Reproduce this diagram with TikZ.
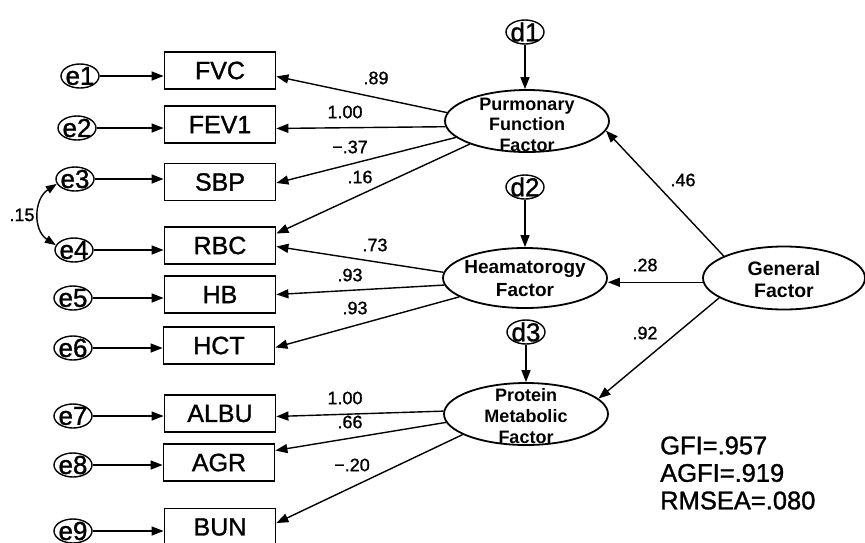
\documentclass[tikz,border=0pt]{standalone}
\usepackage{fontspec}
\setmainfont{Liberation Sans}
\newfontfamily\semib{Liberation Sans}[FakeBold=1.2]
\usetikzlibrary{shapes.geometric,arrows.meta,calc}
\begin{document}
\begin{tikzpicture}[x=1pt,y=-1pt,
 obs/.style={draw,line width=1.8pt,minimum width=111pt,minimum height=37pt,inner sep=0pt,font=\semib\fontsize{25}{28}\selectfont},
 err/.style={draw,ellipse,line width=1.4pt,minimum width=38pt,minimum height=24pt,inner sep=0pt},
 errtext/.style={inner sep=0pt,font=\semib\fontsize{26}{28}\selectfont},
 fac/.style={draw,ellipse,line width=1.8pt,minimum width=164pt,minimum height=62pt,inner sep=0pt},
 ftext/.style={align=center,inner sep=0pt,font=\fontsize{18}{20.5}\bfseries\selectfont},
 lbl/.style={inner sep=0pt,font=\semib\fontsize{18}{20}\selectfont},
 arr/.style={line width=1.4pt,-{Triangle[length=12pt,width=9pt]}},
]
\useasboundingbox (0,0) rectangle (865,542);
% observed boxes
\node[obs] (FVC) at (220,70.5) {FVC};
\node[obs] (FEV1) at (220,124.5) {FEV1};
\node[obs] (SBP) at (220,182) {SBP};
\node[obs] (RBC) at (220,245.5) {RBC};
\node[obs] (HB) at (220,294.5) {HB};
\node[obs] (HCT) at (219,345.5) {HCT};
\node[obs] (ALBU) at (220,413.5) {ALBU};
\node[obs] (AGR) at (219,462.5) {AGR};
\node[obs] (BUN) at (220,527) {BUN};
% error terms
\node[err,label={[errtext]center:e1}] (e1) at (80,76) {};
\node[err,label={[errtext]center:e2}] (e2) at (77,128) {};
\node[err,label={[errtext]center:e3}] (e3) at (75,179) {};
\node[err,label={[errtext]center:e4}] (e4) at (74,250) {};
\node[err,label={[errtext]center:e5}] (e5) at (73,298) {};
\node[err,label={[errtext]center:e6}] (e6) at (73,348) {};
\node[err,label={[errtext]center:e7}] (e7) at (73,416) {};
\node[err,label={[errtext]center:e8}] (e8) at (73,465) {};
\node[err,label={[errtext]center:e9}] (e9) at (73,531) {};
% disturbances
\node[err,label={[errtext]center:d1}] (d1) at (525,32) {};
\node[err,label={[errtext]center:d2}] (d2) at (525,187) {};
\node[err,label={[errtext]center:d3}] (d3) at (526,332) {};
% factors
\node[fac] (PF) at (527,121) {};
\node[ftext] (PFt) at (527,124.5) {Purmonary\\Function\\Factor};
\node[fac,minimum height=60pt] (HF) at (525,278) {};
\node[ftext,font=\fontsize{19}{23}\bfseries\selectfont] (HFt) at (525,279) {Heamatorogy\\Factor};
\node[fac] (PM) at (526,414) {};
\node[ftext,font=\fontsize{18}{21}\bfseries\selectfont] (PMt) at (526,416) {Protein\\Metabolic\\Factor};
\node[fac,minimum width=162pt,minimum height=63pt] (GF) at (784,278) {};
\node[ftext,font=\fontsize{19.5}{22}\bfseries\selectfont] (GFt) at (784,279.5) {General\\Factor};
% error arrows
\foreach \e/\b in {e1/FVC,e2/FEV1,e3/SBP,e4/RBC,e5/HB,e6/HCT,e7/ALBU,e8/AGR,e9/BUN}
  \draw[arr] (\e) -- (\e -| \b.west);
% disturbance arrows
\draw[arr] (d1) -- (d1 |- PF.north);
\draw[arr] (d2) -- (d2 |- HF.north);
\draw[arr] (d3) -- (d3 |- PM.north);
% covariance
\draw[line width=1.4pt,{Triangle[length=11pt,width=8pt]}-{Triangle[length=11pt,width=8pt]}]
  (e3.195) .. controls +(-23,15) and +(-23,-15) .. (e4.165);
% loadings
\draw[arr] (PF.174.3) -- (FVC.-6.5);
\draw[arr] (PF.184.3) -- (FEV1.-4.5);
\draw[arr] (PF.193.5) -- (SBP.-1);
\draw[arr] (PF.202) -- (RBC.12.4);
\draw[arr] (HF.176.4) -- (RBC.-1.5);
\draw[arr] (HF.185.7) -- (HB.-0.5);
\draw[arr] (HF.196.4) -- (HCT.-2.5);
\draw[arr] (PM.178.6) -- (ALBU.-3.5);
\draw[arr] (PM.186.3) -- (AGR.12.4);
\draw[arr] (PM.198.2) -- (BUN.4);
% structural
\draw[arr] (GF.160.4) -- (PF.-7.7);
\draw[arr] (GF.183) -- (GF.183 -| HF.east);
\draw[arr] (GF.197.4) -- (PM.12.2);
% labels
\node[lbl] (l1) at (376,78) {.89};
\node[lbl] (l2) at (345,112) {1.00};
\node[lbl] (l3) at (350,147) {−.37};
\node[lbl] (l4) at (360,177) {.16};
\node[lbl] (l5) at (375,245) {.73};
\node[lbl] (l6) at (350,275) {.93};
\node[lbl] (l7) at (355,308) {.93};
\node[lbl] (l8) at (345,398) {1.00};
\node[lbl] (l9) at (350,422) {.66};
\node[lbl] (l10) at (352,465) {−.20};
\node[lbl] (l11) at (683,180) {.46};
\node[lbl] (l12) at (645,265) {.28};
\node[lbl] (l13) at (645,333) {.92};
\node[lbl] (l14) at (22,215) {.15};
% fit
\node[align=left,anchor=west,inner sep=0pt,font=\semib\fontsize{25.5}{27.5}\selectfont] (fit) at (660,473) {GFI=.957\\AGFI=.919\\RMSEA=.080};
\end{tikzpicture}
\end{document}
